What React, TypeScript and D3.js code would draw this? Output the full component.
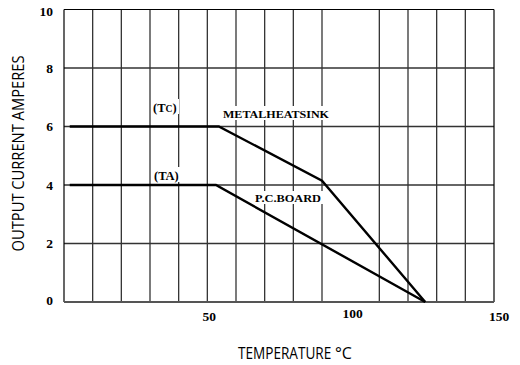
import React from "react";
import * as d3 from "d3";

const yTicks = [0, 2, 4, 6, 8, 10];
const xTickLabels = [50, 100, 150];
const gridX = [10, 20, 30, 40, 50, 60, 70, 80, 90, 110, 120, 130, 140];
const gridY = [2, 4, 6, 8];
const metalTemp = [2, 54, 90, 126];
const metalAmps = [6, 6, 4.15, 0];
const boardTemp = [2, 53, 126];
const boardAmps = [4, 4, 0];

const W = 520;
const H = 365;

export default function App() {
  const x = d3.scaleLinear().domain([0, 150]).range([64, 494]);
  const y = d3.scaleLinear().domain([0, 10]).range([302, 9.5]);
  const line = d3
    .line<[number, number]>()
    .x((d) => x(d[0]))
    .y((d) => y(d[1]));
  const metal = metalTemp.map((t, i) => [t, metalAmps[i]] as [number, number]);
  const board = boardTemp.map((t, i) => [t, boardAmps[i]] as [number, number]);
  const serif = "'Liberation Serif', 'Times New Roman', serif";
  const sans = "'Open Sans', Lato, sans-serif";

  return (
    <svg
      width={W}
      height={H}
      viewBox={`0 0 ${W} ${H}`}
      style={{ position: "absolute", left: 0, top: 0, background: "#fff" }}
    >
      <rect x={0} y={0} width={W} height={H} fill="#fff" />
      {gridX.map((v) => (
        <line key={"gx" + v} x1={x(v)} x2={x(v)} y1={y(10)} y2={y(0)} stroke="#333" strokeWidth={1.3} />
      ))}
      {gridY.map((v) => (
        <line key={"gy" + v} x1={x(0)} x2={x(150)} y1={y(v)} y2={y(v)} stroke="#333" strokeWidth={1.3} />
      ))}
      {/* frame */}
      <line x1={x(0)} x2={x(150)} y1={y(10)} y2={y(10)} stroke="#000" strokeWidth={1.2} />
      <line x1={x(0)} x2={x(0)} y1={y(10)} y2={y(0)} stroke="#000" strokeWidth={1.2} />
      <line x1={x(150)} x2={x(150)} y1={y(10)} y2={y(0)} stroke="#000" strokeWidth={1.2} />
      <line x1={x(0)} x2={x(150)} y1={y(0)} y2={y(0)} stroke="#555" strokeWidth={2} />

      {/* label backgrounds */}
      <rect x={151} y={99} width={28} height={15} fill="#fff" />
      <rect x={221} y={106} width={110} height={14} fill="#fff" />
      <rect x={152} y={167} width={30} height={15} fill="#fff" />
      <rect x={253} y={191} width={70} height={13} fill="#fff" />

      <path d={line(metal) || ""} fill="none" stroke="#000" strokeWidth={2.4} strokeLinejoin="miter" />
      <path d={line(board) || ""} fill="none" stroke="#000" strokeWidth={2.4} strokeLinejoin="miter" />

      {/* curve labels */}
      <text x={153} y={112} fontFamily={serif} fontWeight="bold" fontSize={12.5} fill="#000">
        (T<tspan fontSize={9.5}>C</tspan>)
      </text>
      <text x={223} y={117.5} fontFamily={serif} fontWeight="bold" fontSize={11} fill="#000" textLength={106} lengthAdjust="spacingAndGlyphs">
        METALHEATSINK
      </text>
      <text x={154} y={179.5} fontFamily={serif} fontWeight="bold" fontSize={12.5} fill="#000">
        (TA)
      </text>
      <text x={255} y={201.7} fontFamily={serif} fontWeight="bold" fontSize={11} fill="#000" textLength={66} lengthAdjust="spacingAndGlyphs">
        P.C.BOARD
      </text>

      {/* y ticks */}
      {yTicks.map((v) => (
        <text
          key={"yt" + v}
          x={53}
          y={y(v) + 4.5 - (v === 10 ? -2 : v === 0 ? 2 : 0)}
          textAnchor="end"
          fontFamily={serif}
          fontWeight="bold"
          fontSize={13.5}
          fill="#000"
        >
          {v}
        </text>
      ))}
      {/* x ticks */}
      {xTickLabels.map((v) => (
        <text
          key={"xt" + v}
          x={x(v) + (v === 150 ? 5 : 2)}
          y={v === 100 ? 318 : 321}
          textAnchor="middle"
          fontFamily={serif}
          fontWeight="bold"
          fontSize={13.5}
          fill="#000"
        >
          {v}
        </text>
      ))}

      {/* axis titles */}
      <text
        transform={`translate(23.5,153.5) rotate(-90) scale(0.92,1)`}
        textAnchor="middle"
        fontFamily={sans}
        fontSize={16}
        fill="#000"
      >
        OUTPUT CURRENT AMPERES
      </text>
      <text transform="translate(238,359) scale(0.85,1)" fontFamily={sans} fontSize={16} fill="#000">
        TEMPERATURE
      </text>
      <text x={335} y={359} fontFamily={sans} fontSize={16} fill="#000">
        °C
      </text>
    </svg>
  );
}
